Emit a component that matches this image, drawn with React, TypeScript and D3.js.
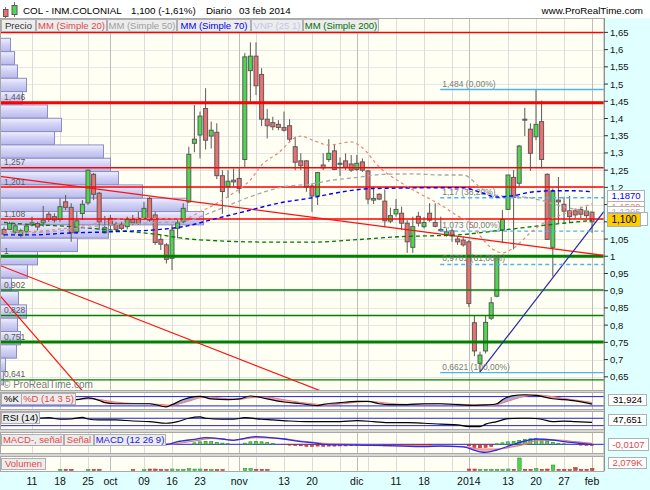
import React from "react";
import * as d3 from "d3";

// ---------------- DATA ----------------
// candle index 0 = 11 sep 2013, first candle = 4 sep 2013, last = 3 feb 2014
const firstIndex = -5;

const opens = [
  1.078,1.078,1.070,1.060,1.071,1.091,1.095,1.097,1.122,1.115,
  1.107,1.158,1.142,1.071,1.124,1.155,1.238,1.183,1.068,1.110,
  1.093,1.093,1.086,1.107,1.110,1.110,1.168,1.120,1.049,1.033,
  0.994,1.081,1.100,1.158,1.328,1.352,1.429,1.349,1.360,1.234,
  1.202,1.221,1.226,1.281,1.539,1.581,1.528,1.398,1.388,1.383,
  1.374,1.379,1.318,1.277,1.277,1.204,1.175,1.265,1.281,1.306,
  1.270,1.277,1.268,1.252,1.274,1.248,1.163,1.180,1.160,1.102,
  1.123,1.125,1.096,1.026,1.116,1.086,1.125,1.098,1.078,1.062,
  1.074,1.050,1.047,1.042,0.807,0.689,0.725,0.820,0.884,1.076,
  1.136,1.229,1.212,1.398,1.369,1.347,1.391,1.238,1.026,1.163,
  1.151,1.132,1.132,1.136,1.131,1.128];
const highs = [
  1.086,1.100,1.095,1.080,1.091,1.115,1.100,1.146,1.129,1.125,
  1.168,1.178,1.154,1.129,1.163,1.252,1.242,1.187,1.117,1.120,
  1.100,1.100,1.115,1.120,1.129,1.158,1.173,1.129,1.062,1.038,
  1.091,1.110,1.154,1.318,1.439,1.420,1.488,1.391,1.386,1.250,
  1.250,1.255,1.255,1.590,1.621,1.621,1.546,1.428,1.405,1.395,
  1.420,1.398,1.347,1.299,1.279,1.212,1.245,1.299,1.340,1.323,
  1.287,1.299,1.294,1.294,1.284,1.250,1.202,1.183,1.194,1.141,
  1.166,1.144,1.105,1.115,1.129,1.114,1.154,1.154,1.115,1.081,
  1.081,1.057,1.057,1.047,0.829,0.723,0.829,0.881,1.004,1.134,
  1.236,1.250,1.323,1.431,1.386,1.484,1.452,1.241,1.197,1.230,
  1.173,1.175,1.139,1.144,1.144,1.129];
const lows = [
  1.057,1.076,1.065,1.055,1.062,1.086,1.075,1.086,1.100,1.098,
  1.100,1.134,1.042,1.066,1.105,1.149,1.163,1.076,1.066,1.076,
  1.071,1.076,1.078,1.090,1.091,1.105,1.100,1.033,1.018,0.979,
  0.960,1.052,1.096,1.154,1.302,1.284,1.310,1.313,1.224,1.123,
  1.170,1.202,1.183,1.257,1.449,1.468,1.378,1.342,1.366,1.366,
  1.362,1.333,1.250,1.250,1.187,1.129,1.149,1.250,1.274,1.250,
  1.233,1.250,1.245,1.248,1.245,1.151,1.152,1.163,1.084,1.096,
  1.115,1.076,1.010,1.010,1.086,1.081,1.100,1.084,1.071,1.057,
  1.042,1.033,1.028,0.853,0.710,0.662,0.718,0.815,0.881,1.038,
  1.134,1.020,1.202,1.349,1.248,1.337,1.255,1.047,0.941,1.096,
  1.096,1.096,1.110,1.110,1.110,1.068];
const closes = [
  1.064,1.095,1.088,1.074,1.088,1.097,1.085,1.105,1.107,1.105,
  1.144,1.142,1.068,1.103,1.151,1.250,1.180,1.100,1.083,1.091,
  1.078,1.081,1.107,1.097,1.096,1.139,1.105,1.040,1.035,0.991,
  1.076,1.097,1.139,1.296,1.340,1.407,1.337,1.366,1.234,1.188,
  1.218,1.216,1.197,1.579,1.581,1.495,1.398,1.379,1.376,1.374,
  1.366,1.340,1.273,1.263,1.201,1.175,1.243,1.257,1.299,1.252,
  1.267,1.258,1.250,1.270,1.250,1.166,1.168,1.166,1.103,1.118,
  1.136,1.096,1.042,1.086,1.096,1.098,1.105,1.087,1.074,1.071,
  1.059,1.042,1.033,0.863,0.725,0.713,0.808,0.865,0.999,1.107,
  1.236,1.171,1.320,1.396,1.299,1.383,1.281,1.049,1.189,1.158,
  1.131,1.115,1.120,1.122,1.118,1.100];
// volume in thousands of shares
const volumes = [
  0,0,0,0,0,0,0,0,0,0,
  1.2,1.2,1.2,0,0,1.2,1.2,1.2,0,0,
  0,0,0,1.0,0,1.0,1.5,1.5,1.2,1.0,
  1.5,1.2,1.2,2.0,1.5,1.5,1.2,1.2,1.0,1.0,
  0,0,0,2.2,2.0,1.2,1.2,1.0,0,0,
  0,0,0,0,0,0,0,0,0,0,
  0,0,0,0,0,0,0,0,0,0,
  0,0,0,0,0,0,0,0,0,0,
  0,0,0,1.5,1.5,1.2,1.2,1.2,1.2,1.2,
  1.5,1.2,12.5,1.2,1.2,2.0,1.2,1.5,5.5,1.2,
  1.2,1.0,3.0,1.2,1.2,2.079];
const macdHist = [
  0,0,0,0,0,0,0,0,0,0,
  0,0,0,0,0,0,0,0,0,0,
  0,0,0,0,0,0,0,0,0,0,
  0,0,0,0,0.015,0.025,0.03,0.028,0.02,0.012,
  0.006,0,0,0.012,0.025,0.03,0.025,0.018,0.01,0,
  -0.004,-0.008,-0.012,-0.015,-0.02,-0.02,-0.018,-0.02,-0.018,-0.018,
  -0.016,-0.016,-0.014,-0.012,-0.01,-0.012,-0.014,-0.014,-0.016,-0.016,
  -0.014,-0.012,-0.014,-0.012,-0.01,-0.008,-0.006,0,0,0,
  0,0,0,-0.015,-0.03,-0.035,-0.03,-0.02,0.005,0.015,
  0.025,0.03,0.04,0.05,0.055,0.055,0.045,0.03,0.02,0.01,
  0.005,0,0,-0.008,-0.01,-0.0107];

const tickIndex = [0,5,10,14,20,25,30,37,45,50,58,65,70,78,85,90,95,100];
const tickLabels = ["11","18","25","oct","09","16","23","nov","13","20","dic","11","18","2014","13","20","27","feb"];
const monthTickIndex = [14,37,58,78,100];
const extraGridIndex = [35,40,55,60,75];

const priceTicks = [1.65,1.6,1.55,1.5,1.45,1.4,1.35,1.3,1.25,1.2,1.15,1.1,1.05,1,0.95,0.9,0.85,0.8,0.75,0.7,0.65];

const levelValues = [1.65,1.446,1.257,1.201,1.108,1,0.902,0.828,0.751,0.641];
const levelLabels = ["","1,446","1,257","1,201","1,108","1","0,902","0,828","0,751","0,641"];
const levelColors = ["#ff0000","#ff0000","#ff0000","#ff0000","#ff0000","#008000","#008000","#008000","#008000","#008000"];
const levelWidths = [1.5,3,1.6,1.4,1.4,3,1.5,1.5,3,1.4];

const fibLevels = [1.484,1.17,1.073,0.9761,0.6621];
const fibLabels = ["1,484 (0,00%)","1,17 (38,20%)","1,073 (50,00%)","0,9761 (61,80%)","0,6621 (100,00%)"];
const fibStartIndex = 72.9;

const trendStartIdx = [-5.71,-5.71,-5.71,79.9];
const trendStartPrice = [1.2317,0.9733,0.8856,0.6621];
const trendEndIdx = [102.14,53.2,9.46,102.14];
const trendEndPrice = [1.0023,0.5987,0.6008,1.130];
const trendColors = ["#ff1010","#ff1010","#ff1010","#2a2aa8"];

const mm20Idx = [-5,0,6,12,17,23,27,30,33,36,39,41,44,47,48,50,53,57,59,62,66,69,73,76,78,80,82,84,86,89,92,95,100];
const mm20Val = [1.071,1.072,1.081,1.096,1.110,1.110,1.108,1.129,1.154,1.184,1.222,1.265,1.300,1.344,1.349,1.338,1.323,1.332,1.315,1.259,1.213,1.184,1.149,1.117,1.100,1.059,1.024,1.010,1.024,1.068,1.103,1.123,1.152];
const mm50Idx = [-5,3,14,21,27,33,39,45,50,54,57,63,68,73,77,80,82,85,88,91,94,97,100];
const mm50Val = [1.065,1.071,1.091,1.097,1.101,1.134,1.173,1.202,1.210,1.222,1.227,1.238,1.239,1.236,1.236,1.201,1.180,1.174,1.172,1.162,1.148,1.136,1.1295];
const mm70Idx = [-5,0,6,14,23,27,33,38,44,50,54,60,66,72,77,80,83,86,89,93,97,100];
const mm70Val = [1.062,1.062,1.067,1.071,1.078,1.086,1.110,1.130,1.154,1.170,1.183,1.196,1.198,1.199,1.199,1.186,1.172,1.176,1.186,1.190,1.190,1.187];
const mm200Idx = [-5,0,6,12,18,23,27,33,38,44,50,57,66,76,84,91,100];
const mm200Val = [1.098,1.092,1.087,1.079,1.071,1.062,1.052,1.045,1.042,1.041,1.041,1.047,1.057,1.062,1.076,1.089,1.1043];

// volume-at-price profile (VNP), bins from the top price downward
const vnpTop = 1.6329;
const vnpStep = 0.0387;
const vnpVolume = [5,7,8.5,13,11,23.5,30.5,27,51.5,55,59,71,93.5,101.5,54,38.5,18.5,13.5,5.5,9,13,8.5,10,8,2.5,1.5];

const stoIdx = [-5,-2,1,4,8,10,12,13,15,18,21,24,25,27,29,30,32,35,37,39,42,45,48,51,52,55,58,60,62,64,67,70,73,76,79,81,83,84,86,88,90,93,95,97,99,100];
const stoK = [45,60,70,62,61,72,55,41,34,34,34,14,28,61,80,82,65,61,65,84,65,45,34,22,30,41,49,49,34,28,28,34,34,28,24,26,34,60,86,92,88,66,60,52,40,31.9];
const stoD = [48,55,64,66,62,65,62,55,44,36,34,26,24,40,62,72,76,66,62,72,76,60,42,30,26,32,44,48,44,35,30,31,33,31,27,26,28,38,62,82,90,80,68,58,48,42];

const rsiIdx = [-5,-2,1,3,5,7,9,10,12,15,18,21,24,26,28,30,31,34,36,38,41,43,46,49,52,55,58,61,64,67,70,73,76,78,80,81,83,85,87,89,91,93,95,97,100];
const rsiVal = [62,66,70,73,64.6,66,75,66,61,61,55,52,43,52,70,77,70,64.6,64.6,73,64.6,61,55,52,52,52,57,52,46,46,43,38,34,25,25,38,52,68,70,70,64.6,52,55,52,47.65];

const macdIdx = [-5,5,12,18,24,26,29,31,34,36,38,40,42,45,48,51,52,58,64,70,73,77,78,80,81,83,86,88,90,93,95,98,100];
const macdVal = [0.01,0.008,0.006,0,-0.002,0.026,0.05,0.066,0.053,0.04,0.06,0.076,0.07,0.053,0.026,0.01,0,-0.007,-0.013,-0.023,-0.018,-0.025,-0.04,-0.075,-0.08,-0.057,0,0.033,0.053,0.043,0.026,0.008,-0.001];
const signalIdx = [-5,5,12,18,24,29,32,36,40,44,48,52,58,64,70,77,80,83,86,88,90,94,97,100];
const signalVal = [0.012,0.01,0.008,0.004,0,0.033,0.06,0.043,0.066,0.06,0.033,0.01,0,-0.013,-0.013,-0.023,-0.047,-0.047,-0.023,0,0.033,0.043,0.026,0.01];

// ---------------- LAYOUT ----------------
const PR = 604;
const FONT = "'Liberation Sans', Arial, Helvetica, sans-serif";
const MAIN = { top: 18, bottom: 390 };
const STO = { top: 392, bottom: 409 };
const RSI = { top: 411, bottom: 429 };
const MACD = { top: 432, bottom: 453 };
const VOL = { top: 456, bottom: 471 };

const xIdx = d3.scaleLinear().domain([0, 100]).range([32, 592]);
const yPrice = d3.scaleLinear().domain([0.65, 1.65]).range([376.8, 32.4]);
const ySto = d3.scaleLinear().domain([0, 100]).range([409, 393.5]);
const yRsi = d3.scaleLinear().domain([0, 100]).range([431.2, 412.7]);
const yMacd = d3.scaleLinear().domain([-0.1, 0.1]).range([454.3, 434.3]);
const yVol = d3.scaleLinear().domain([0, 13]).range([470.5, 457.5]);
const xVnp = d3.scaleLinear().domain([0, 101.5]).range([0, 203]);

const GREEN = "#4fd64f";
const RED = "#ec7070";
const EDGE = "#5a5a5a";

function linePath(ix: number[], vals: number[], ys: any) {
  return d3.line<number>().x((d) => xIdx(d)).y((d, i) => ys(vals[i])).curve(d3.curveMonotoneX)(ix) || "";
}
function areaPath(ix: number[], vals: number[], ys: any, base: number) {
  return d3.area<number>().x((d) => xIdx(d)).y0(base).y1((d, i) => ys(vals[i])).curve(d3.curveMonotoneX)(ix) || "";
}
const comma = (v: number) => String(+v.toFixed(4)).replace(".", ",");
const fixedComma = (v: number, d: number) => v.toFixed(d).replace(".", ",");

function Box({ x, y, w, h, text, color, fill = "#ececec", size = 9.5, anchor = "middle" }: any) {
  return (
    <g>
      <rect x={x + 0.5} y={y + 0.5} width={w} height={h} fill={fill} stroke="#b0b0b0" />
      <text x={anchor === "middle" ? x + w / 2 + 0.5 : x + 3} y={y + h / 2 + 3.8} fontSize={size} fill={color} textAnchor={anchor}>{text}</text>
    </g>
  );
}

function GridV({ top, bottom }: any) {
  const all = [...tickIndex, ...extraGridIndex];
  return (
    <g>
      {all.map((t, i) => (
        <line key={i} x1={Math.round(xIdx(t)) + 0.5} x2={Math.round(xIdx(t)) + 0.5} y1={top} y2={bottom}
          stroke={monthTickIndex.includes(t) ? "#bdbdbd" : "#dcdcdc"} strokeWidth={1} />
      ))}
    </g>
  );
}

export default function App() {
  const n = opens.length;
  const idxs = d3.range(n).map((i) => i + firstIndex);
  const panelBg = "#fffff4";

  return (
    <div style={{ position: "absolute", left: 0, top: 0 }}>
      <svg width={650} height={490} style={{ display: "block", fontFamily: FONT }}>
        <defs>
          <clipPath id="cMain"><rect x={0} y={MAIN.top} width={PR} height={MAIN.bottom - MAIN.top} /></clipPath>
          <clipPath id="cSto"><rect x={0} y={STO.top} width={PR} height={STO.bottom - STO.top} /></clipPath>
          <clipPath id="cRsi"><rect x={0} y={RSI.top} width={PR} height={RSI.bottom - RSI.top} /></clipPath>
          <clipPath id="cMacd"><rect x={0} y={MACD.top} width={PR} height={MACD.bottom - MACD.top} /></clipPath>
          <clipPath id="cVol"><rect x={0} y={VOL.top} width={PR} height={VOL.bottom - VOL.top} /></clipPath>
          <clipPath id="belowD"><path d={areaPath(stoIdx, stoD, ySto, 420)} /></clipPath>
          <clipPath id="belowK"><path d={areaPath(stoIdx, stoK, ySto, 420)} /></clipPath>
          <clipPath id="belowSig"><path d={areaPath(signalIdx, signalVal, yMacd, 470)} /></clipPath>
          <clipPath id="belowMacd"><path d={areaPath(macdIdx, macdVal, yMacd, 470)} /></clipPath>
          <linearGradient id="vnpGrad" x1="0" y1="0" x2="0" y2="1">
            <stop offset="0%" stopColor="#f0f0ff" />
            <stop offset="45%" stopColor="#d2d2f6" />
            <stop offset="100%" stopColor="#b8b8ea" />
          </linearGradient>
        </defs>

        {/* background */}
        <rect x={0} y={0} width={650} height={490} fill="#ffffff" />
        <rect x={0} y={MAIN.top} width={PR} height={VOL.bottom - MAIN.top} fill="#d6d6d6" />
        <rect x={PR} y={MAIN.top} width={650 - PR} height={490 - MAIN.top} fill="#e0ffff" />
        <rect x={0} y={VOL.bottom} width={650} height={490 - VOL.bottom} fill="#e0ffff" />

        {/* header */}
        <g>
          <line x1={5.5} x2={5.5} y1={7} y2={18} stroke="#707070" />
          <rect x={3.5} y={9.5} width={4.5} height={7} fill={RED} stroke={EDGE} />
          <line x1={14.5} x2={14.5} y1={2} y2={17} stroke="#707070" />
          <rect x={12} y={5.5} width={5} height={9} fill={GREEN} stroke={EDGE} />
          <text x={23} y={14} fontSize={9.8} fill="#000">COL - INM.COLONIAL</text>
          <text x={131} y={14} fontSize={9.8} fill="#000">1,100 (-1,61%)</text>
          <text x={206} y={14} fontSize={9.8} fill="#000">Diario</text>
          <text x={239} y={14} fontSize={9.8} fill="#000">03 feb 2014</text>
          <text x={643} y={14} fontSize={9.8} fill="#000" textAnchor="end">www.ProRealTime.com</text>
        </g>

        {/* ============ MAIN PANEL ============ */}
        <g clipPath="url(#cMain)">
          <rect x={0} y={MAIN.top} width={PR} height={MAIN.bottom - MAIN.top} fill={panelBg} />
          {priceTicks.map((p, i) => (
            <line key={i} x1={0} x2={PR} y1={Math.round(yPrice(p)) + 0.5} y2={Math.round(yPrice(p)) + 0.5} stroke="#e6e6e6" />
          ))}
          <GridV top={MAIN.top} bottom={MAIN.bottom} />

          {/* volume profile */}
          {vnpVolume.map((v, i) => {
            const yt = yPrice(vnpTop - i * vnpStep);
            const yb = yPrice(vnpTop - (i + 1) * vnpStep);
            return <rect key={i} x={0.5} y={yt} width={xVnp(v)} height={yb - yt} fill="url(#vnpGrad)" stroke="#8c8cc4" strokeWidth={1} />;
          })}

          {/* candles */}
          {idxs.map((t, i) => {
            const x = xIdx(t);
            const up = closes[i] >= opens[i];
            const yo = yPrice(opens[i]);
            const yc = yPrice(closes[i]);
            const top = Math.min(yo, yc);
            const h = Math.max(Math.abs(yo - yc), 1);
            return (
              <g key={i}>
                <line x1={x} x2={x} y1={yPrice(highs[i])} y2={yPrice(lows[i])} stroke={EDGE} strokeWidth={1} />
                <rect x={x - 2} y={top} width={4} height={h} fill={up ? GREEN : RED} stroke={EDGE} strokeWidth={1} />
              </g>
            );
          })}

          {/* horizontal levels */}
          {levelValues.map((v, i) => (
            <line key={i} x1={0} x2={PR} y1={yPrice(v)} y2={yPrice(v)} stroke={levelColors[i]} strokeWidth={levelWidths[i]} />
          ))}

          {/* trend lines */}
          {trendStartIdx.map((s, i) => (
            <line key={i} x1={xIdx(s)} y1={yPrice(trendStartPrice[i])} x2={xIdx(trendEndIdx[i])} y2={yPrice(trendEndPrice[i])}
              stroke={trendColors[i]} strokeWidth={1.2} />
          ))}

          {/* fibonacci */}
          {fibLevels.map((v, i) => (
            <g key={i}>
              <line x1={xIdx(fibStartIndex)} x2={PR} y1={yPrice(v)} y2={yPrice(v)} stroke="#4ab4f0" strokeWidth={1.4}
                strokeDasharray={i === 0 || i === fibLevels.length - 1 ? undefined : "4,3"} />
              <text x={xIdx(fibStartIndex) + 2} y={yPrice(v) - 3} fontSize={8.5} fill="#7a7a7a">{fibLabels[i]}</text>
            </g>
          ))}

          {/* moving averages */}
          <path d={linePath(mm200Idx, mm200Val, yPrice)} fill="none" stroke="#007a00" strokeWidth={1.3} strokeDasharray="4,3" />
          <path d={linePath(mm50Idx, mm50Val, yPrice)} fill="none" stroke="#a6a6a6" strokeWidth={1.3} strokeDasharray="4,3" />
          <path d={linePath(mm70Idx, mm70Val, yPrice)} fill="none" stroke="#0000ff" strokeWidth={1.4} strokeDasharray="4,3" />
          <path d={linePath(mm20Idx, mm20Val, yPrice)} fill="none" stroke="#f08080" strokeWidth={1.2} strokeDasharray="3,3" />

          {/* level labels */}
          {levelValues.map((v, i) => levelLabels[i] ? (
            <text key={i} x={4} y={yPrice(v) - 2.5} fontSize={8.5} fill="#5a5a5a">{levelLabels[i]}</text>
          ) : null)}
          <text x={3} y={388} fontSize={10} fill="#7a7a7a">© ProRealTime.com</text>

          {/* legend */}
          <Box x={1} y={19} w={34} h={12} text="Precio" color="#333" />
          <Box x={36} y={19} w={70} h={12} text="MM (Simple 20)" color="#e04848" />
          <Box x={107} y={19} w={69} h={12} text="MM (Simple 50)" color="#a0a0a0" />
          <Box x={177} y={19} w={73} h={12} text="MM (Simple 70)" color="#0000ff" />
          <Box x={251} y={19} w={51} h={12} text="VNP (25 1)" color="#c4c4ee" />
          <Box x={303} y={19} w={75} h={12} text="MM (Simple 200)" color="#007000" />
        </g>
        <rect x={0.5} y={MAIN.top + 0.5} width={PR - 0.5} height={MAIN.bottom - MAIN.top} fill="none" stroke="#a8a8a8" />

        {/* ============ STOCHASTIC ============ */}
        <g clipPath="url(#cSto)">
          <rect x={0} y={STO.top} width={PR} height={STO.bottom - STO.top} fill={panelBg} />
          <GridV top={STO.top} bottom={STO.bottom} />
          <line x1={0} x2={PR} y1={ySto(80)} y2={ySto(80)} stroke="#2020e0" />
          <line x1={0} x2={PR} y1={ySto(20)} y2={ySto(20)} stroke="#2020e0" />
          <g clipPath="url(#belowD)">
            <path d={areaPath(stoIdx, stoK, ySto, 380)} fill="#f4a8a8" />
          </g>
          <g clipPath="url(#belowK)">
            <path d={areaPath(stoIdx, stoD, ySto, 380)} fill="#a8a8d8" />
          </g>
          <path d={linePath(stoIdx, stoD, ySto)} fill="none" stroke="#f07878" strokeWidth={1} />
          <path d={linePath(stoIdx, stoK, ySto)} fill="none" stroke="#000" strokeWidth={1.2} />
          <Box x={1} y={STO.top + 1} w={20} h={11} text="%K" color="#000" />
          <Box x={21} y={STO.top + 1} w={54} h={11} text="%D (14 3 5)" color="#e04848" />
        </g>
        <rect x={0.5} y={STO.top + 0.5} width={PR - 0.5} height={STO.bottom - STO.top} fill="none" stroke="#a8a8a8" />

        {/* ============ RSI ============ */}
        <g clipPath="url(#cRsi)">
          <rect x={0} y={RSI.top} width={PR} height={RSI.bottom - RSI.top} fill={panelBg} />
          <GridV top={RSI.top} bottom={RSI.bottom} />
          <line x1={0} x2={PR} y1={yRsi(70)} y2={yRsi(70)} stroke="#2020e0" />
          <line x1={0} x2={PR} y1={yRsi(30)} y2={yRsi(30)} stroke="#2020e0" />
          <path d={linePath(rsiIdx, rsiVal, yRsi)} fill="none" stroke="#000" strokeWidth={1.2} />
          <Box x={1} y={RSI.top + 1} w={38} h={11} text="RSI (14)" color="#000" />
        </g>
        <rect x={0.5} y={RSI.top + 0.5} width={PR - 0.5} height={RSI.bottom - RSI.top} fill="none" stroke="#a8a8a8" />

        {/* ============ MACD ============ */}
        <g clipPath="url(#cMacd)">
          <rect x={0} y={MACD.top} width={PR} height={MACD.bottom - MACD.top} fill={panelBg} />
          <GridV top={MACD.top} bottom={MACD.bottom} />
          <g clipPath="url(#belowMacd)">
            <path d={areaPath(signalIdx, signalVal, yMacd, 400)} fill="#b4ecb4" />
          </g>
          <g clipPath="url(#belowSig)">
            <path d={areaPath(macdIdx, macdVal, yMacd, 400)} fill="#f4b4b4" />
          </g>
          <line x1={0} x2={PR} y1={yMacd(0)} y2={yMacd(0)} stroke="#2020e0" strokeWidth={1} />
          {idxs.map((t, i) => macdHist[i] === 0 ? null : (
            <rect key={i} x={xIdx(t) - 1.5} width={3}
              y={Math.min(yMacd(0), yMacd(macdHist[i]))}
              height={Math.abs(yMacd(macdHist[i]) - yMacd(0))}
              fill={macdHist[i] > 0 ? "#4cd24c" : "#d84848"} stroke={macdHist[i] > 0 ? "#2a8a2a" : "#a02828"} strokeWidth={0.6} />
          ))}
          <path d={linePath(signalIdx, signalVal, yMacd)} fill="none" stroke="#f07878" strokeWidth={1.2} />
          <path d={linePath(macdIdx, macdVal, yMacd)} fill="none" stroke="#2a2af0" strokeWidth={1.3} />
          <Box x={1} y={MACD.top + 2} w={62} h={11} text="MACD-, señal" color="#e04848" />
          <Box x={64} y={MACD.top + 2} w={29} h={11} text="Señal" color="#e04848" />
          <Box x={94} y={MACD.top + 2} w={71} h={11} text="MACD (12 26 9)" color="#2020e0" />
        </g>
        <rect x={0.5} y={MACD.top + 0.5} width={PR - 0.5} height={MACD.bottom - MACD.top} fill="none" stroke="#a8a8a8" />

        {/* ============ VOLUME ============ */}
        <g clipPath="url(#cVol)">
          <rect x={0} y={VOL.top} width={PR} height={VOL.bottom - VOL.top} fill={panelBg} />
          <GridV top={VOL.top} bottom={VOL.bottom} />
          {idxs.map((t, i) => volumes[i] === 0 ? null : (
            <rect key={i} x={xIdx(t) - 1.5} width={3.5} y={yVol(volumes[i])} height={yVol(0) - yVol(volumes[i])}
              fill={closes[i] >= opens[i] ? "#4cd24c" : "#d84848"} stroke={closes[i] >= opens[i] ? "#2a8a2a" : "#a02828"} strokeWidth={0.5} />
          ))}
          <Box x={1} y={VOL.top + 2} w={44} h={11} text="Volumen" color="#e04848" />
        </g>
        <rect x={0.5} y={VOL.top + 0.5} width={PR - 0.5} height={VOL.bottom - VOL.top} fill="none" stroke="#a8a8a8" />

        {/* ============ RIGHT AXIS ============ */}
        <line x1={PR + 0.5} x2={PR + 0.5} y1={MAIN.top} y2={VOL.bottom} stroke="#909090" />
        {priceTicks.map((p, i) => (
          <g key={i}>
            <line x1={PR} x2={PR + 4} y1={yPrice(p)} y2={yPrice(p)} stroke="#333" />
            <text x={PR + 6} y={yPrice(p) + 3.5} fontSize={9.5} fill="#111">{comma(p)}</text>
          </g>
        ))}
        <Box x={607} y={190} w={37} h={11} text={fixedComma(mm70Val[mm70Val.length - 1], 4)} color="#0000ff" fill="#ffffff" size={9.5} />
        <Box x={607} y={201} w={37} h={11} text={fixedComma(mm20Val[mm20Val.length - 1], 4)} color="#f08080" fill="#ffffff" size={9.5} />
        <Box x={607} y={206} w={37} h={10} text={fixedComma(mm50Val[mm50Val.length - 1], 4)} color="#b0b0b0" fill="#ffffff" size={9.5} />
        <Box x={607} y={212} w={40} h={13} text={fixedComma(mm200Val[mm200Val.length - 1], 4)} color="#007a00" fill="#ffffff" size={9.5} anchor="start" />
        <Box x={607} y={213} w={33} h={13} text={fixedComma(closes[closes.length - 1], 3)} color="#000" fill="#ffcc00" size={10} />

        <Box x={608} y={394} w={38} h={11} text="31,924" color="#000" fill="#ffffff" size={9.5} />
        <Box x={608} y={414} w={38} h={11} text="47,651" color="#000" fill="#ffffff" size={9.5} />
        <Box x={608} y={438} w={40} h={12} text="-0,0107" color="#e04848" fill="#ffffff" size={9.5} />
        <Box x={608} y={457} w={38} h={11} text="2,079K" color="#e04848" fill="#ffffff" size={9.5} />

        {/* ============ X AXIS ============ */}
        {tickIndex.map((t, i) => (
          <text key={i} x={xIdx(t)} y={485} fontSize={10.5} fill="#111" textAnchor="middle">{tickLabels[i]}</text>
        ))}
      </svg>
    </div>
  );
}
